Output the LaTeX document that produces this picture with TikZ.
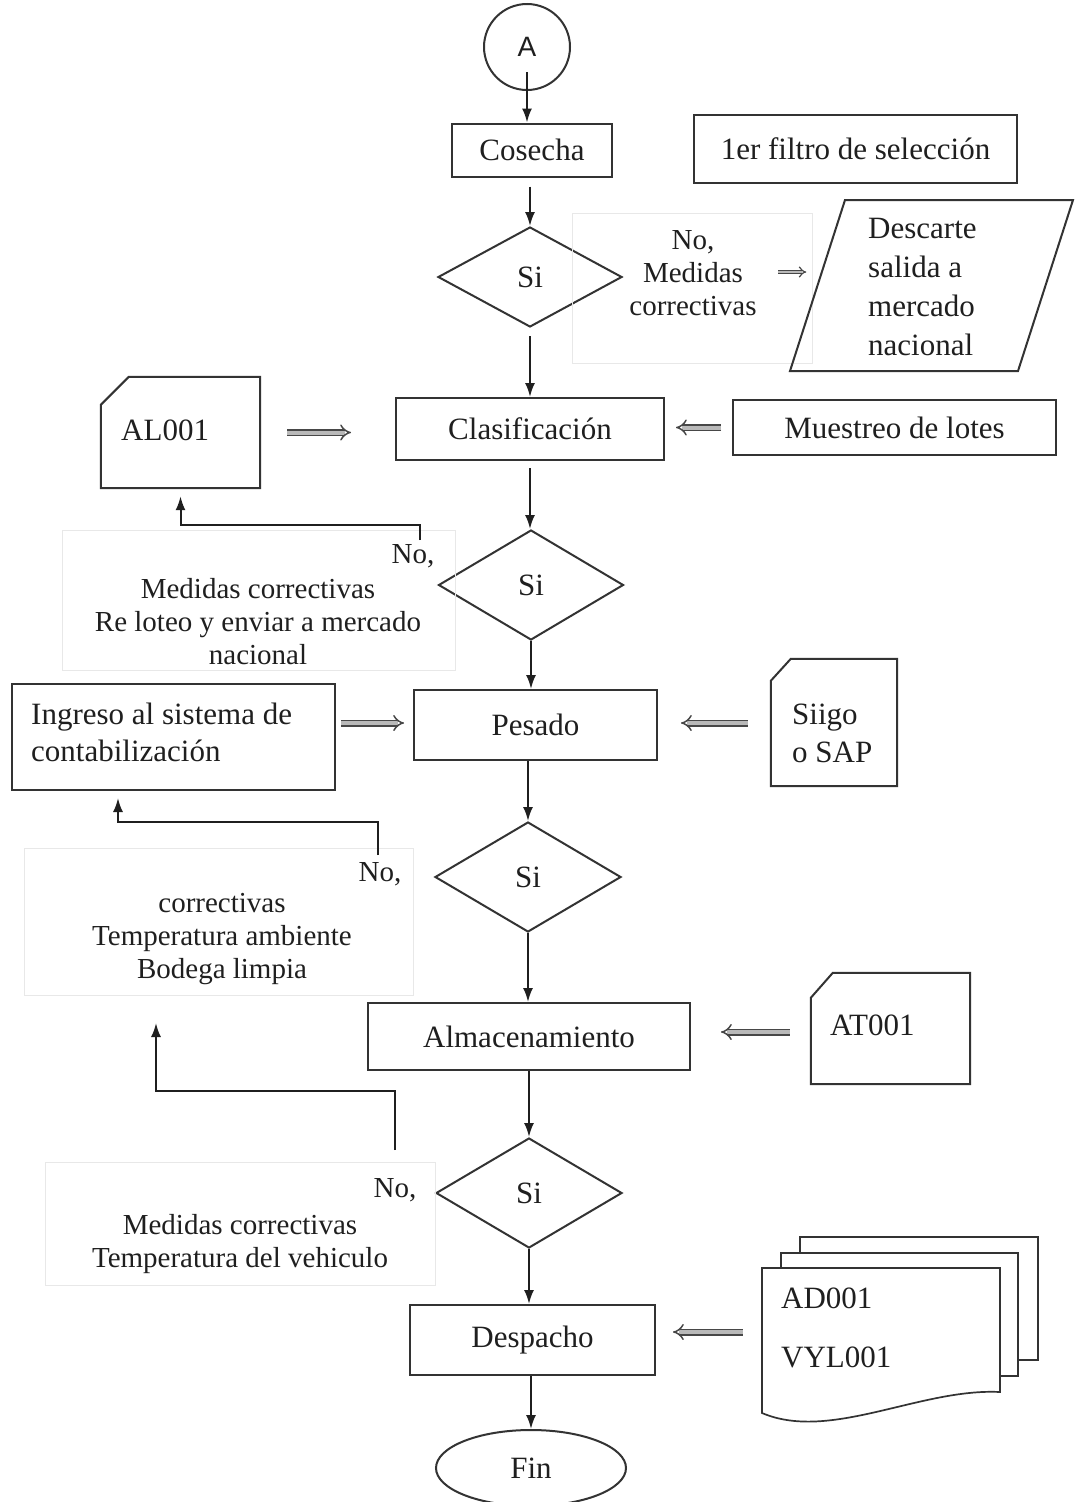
\documentclass[tikz,border=0pt]{standalone}
\usepackage{fontspec}
\setmainfont{Liberation Serif}
\newfontfamily\sansA{Liberation Sans}
\usetikzlibrary{arrows.meta,shapes.geometric,calc}
\begin{document}
\begin{tikzpicture}[x=1pt,y=-1pt,
  every node/.style={font=\fontsize{31}{37}\selectfont, text=black!88},
  box/.style={draw=black!80, line width=2pt, rectangle, inner sep=0pt},
  dia/.style={draw=black!80, line width=2pt, diamond, inner sep=0pt, aspect=1.7},
  faint/.style={draw=black!9, line width=0.6pt, rectangle, inner sep=0pt},
  ghost/.style={rectangle, inner sep=0pt, draw=none},
  shp/.style={draw=black!80, line width=2pt},
  flow/.style={draw=black!88, line width=2pt, -{Latex[length=14pt,width=10pt]}},
  dbl/.style={draw=black!72, double=gray!55, double distance=4pt, line width=1.5pt, -{Implies}},
  lbl/.style={inner sep=0pt, align=center, font=\fontsize{29}{33}\selectfont},
  lft/.style={inner sep=0pt, align=left, anchor=west}
]
\useasboundingbox (0,0) rectangle (1074,1502);
\fill[white] (0,0) rectangle (1074,1502);

% start connector
\node[draw=black!80, line width=2pt, circle, minimum size=86pt, inner sep=0pt, font=\sansA\fontsize{28}{30}\selectfont] (A) at (527,47) {A};

% Cosecha
\node[box, minimum width=160pt, minimum height=53pt] (cos) at (532,150) {Cosecha};
\node[box, minimum width=323pt, minimum height=68pt] (filtro) at (855.5,149) {1er filtro de selección};

% diamond 1
\node[dia, minimum width=184pt, minimum height=100pt] (d1) at (530,277) {Si};
\node[faint, minimum width=240pt, minimum height=150pt] (f1) at (692,288) {};
\node[lbl] (t1) at (693,273) {No,\\Medidas\\correctivas};
\node[ghost, minimum width=283pt, minimum height=171pt] (desc) at (931.5,285.5) {};
\draw[shp] (845,200) -- (1073,200) -- (1018,371) -- (790,371) -- cycle;
\node[lft, font=\fontsize{31}{39}\selectfont] (desct) at (868,287) {Descarte\\salida a\\mercado\\nacional};
\draw[dbl, double distance=2.5pt, line width=1.2pt] ($(f1.east)+(-34,-16)$) -- ($(f1.east)+(-6,-16)$);

% Clasificacion
\node[box, minimum width=268pt, minimum height=62pt] (clas) at (530,429) {Clasificación};
\node[ghost, minimum width=159pt, minimum height=111pt] (al) at (180.5,432.5) {};
\draw[shp] ($(al.north west)+(0,28)$) -- ($(al.north west)+(28,0)$) -- (al.north east) -- (al.south east) -- (al.south west) -- cycle;
\node[lft] (alt) at (121,430) {AL001};
\node[box, minimum width=323pt, minimum height=55pt] (mues) at (894.5,427.5) {Muestreo de lotes};
\draw[dbl] ($(al.east)+(27,0)$) -- ($(clas.west |- al.east)+(-44,0)$);
\draw[dbl] ($(mues.west)+(-11,0)$) -- ($(clas.east |- mues.west)+(11,0)$);

% diamond 2
\node[dia, minimum width=185pt, minimum height=110pt] (d2) at (531,585) {Si};
\node[faint, minimum width=393pt, minimum height=140pt] (f2) at (258.5,600) {};
\node[lbl] (t2) at (258,622) {Medidas correctivas\\Re loteo y enviar a mercado\\nacional};
\node[lbl] (n2) at (413,556) {No,};
\coordinate (b2) at (420,540);
\draw[flow] (b2) -- (420,525) -| ($(al.south)+(0,8)$);

% Pesado
\node[box, minimum width=243pt, minimum height=70pt] (pes) at (535.5,725) {Pesado};
\node[box, minimum width=323pt, minimum height=106pt] (ing) at (173.5,737) {};
\node[lft] (ingt) at (31,732.5) {Ingreso al sistema de\\contabilización};
\node[ghost, minimum width=126pt, minimum height=127pt] (sii) at (834,722.5) {};
\draw[shp] ($(sii.north west)+(0,22)$) -- ($(sii.north west)+(20,0)$) -- (sii.north east) -- (sii.south east) -- (sii.south west) -- cycle;
\node[lft, font=\fontsize{31}{38}\selectfont] (siit) at (792,733) {Siigo\\o SAP};
\draw[dbl] ($(ing.east |- pes.west)+(5,-2)$) -- ($(pes.west)+(-9,-2)$);
\draw[dbl] ($(sii.west |- pes.east)+(-23,-2)$) -- ($(pes.east)+(23,-2)$);

% diamond 3
\node[dia, minimum width=186pt, minimum height=110pt] (d3) at (528,877) {Si};
\node[faint, minimum width=389pt, minimum height=147pt] (f3) at (218.5,921.5) {};
\node[lbl] (t3) at (222,939) {correctivas\\Temperatura ambiente\\Bodega limpia};
\node[lbl] (n3) at (380,874) {No,};
\coordinate (b3) at (378,855);
\draw[flow] (b3) -- (378,822) -| ($(ing.south)+(-55.5,7)$);

% Almacenamiento
\node[box, minimum width=322pt, minimum height=67pt] (alm) at (529,1036.5) {Almacenamiento};
\node[ghost, minimum width=159pt, minimum height=111pt] (at) at (890.5,1028.5) {};
\draw[shp] ($(at.north west)+(0,25)$) -- ($(at.north west)+(22,0)$) -- (at.north east) -- (at.south east) -- (at.south west) -- cycle;
\node[lft] (att) at (830,1025) {AT001};
\draw[dbl] ($(at.west)+(-21,3.5)$) -- ($(alm.east |- at.west)+(30,3.5)$);

% diamond 4
\node[dia, minimum width=186pt, minimum height=110pt] (d4) at (529,1193) {Si};
\node[faint, minimum width=390pt, minimum height=123pt] (f4) at (240,1223.5) {};
\node[lbl] (t4) at (240,1244) {Medidas correctivas\\Temperatura del vehiculo};
\node[lbl] (n4) at (395,1190) {No,};
\coordinate (b4) at (395,1150);
\coordinate (e4) at (156,1023);
\draw[flow] (b4) -- (395,1091) -| (e4);

% Despacho
\node[box, minimum width=245pt, minimum height=70pt] (desp) at (532.5,1340) {Despacho};
\node[ghost, minimum width=238pt, minimum height=147pt] (md) at (881,1341.5) {};
\draw[shp, line width=1.7pt] (800,1253) -- (800,1237) -- (1038,1237) -- (1038,1360) -- (1018,1360);
\draw[shp, line width=1.7pt] (781,1268) -- (781,1253) -- (1018,1253) -- (1018,1376) -- (1000,1376);
\draw[shp, line width=1.7pt] (762,1268) -- (1000,1268) -- (1000,1392) .. controls (920,1388) and (830,1442) .. (762,1413) -- cycle;
\node[lft] (mdt1) at (781,1298) {AD001};
\node[lft] (mdt2) at (781,1357) {VYL001};
\draw[dbl] ($(md.west |- desp.east)+(-19,-8)$) -- ($(desp.east)+(17,-8)$);

% Fin
\node[draw=black!80, line width=2pt, ellipse, minimum width=190pt, minimum height=76pt, inner sep=0pt] (fin) at (531,1468) {Fin};

% main flow
\draw[flow] ($(A.center)+(0,25)$) -- (A.south |- cos.north);
\draw[flow] ($(cos.south -| d1.north)+(0,9)$) -- (d1.north);
\draw[flow] ($(d1.south)+(0,8)$) -- (d1.south |- clas.north);
\draw[flow] ($(clas.south)+(0,7)$) -- (clas.south |- d2.north);
\draw[flow] (d2.south) -- (d2.south |- pes.north);
\draw[flow] (d3.north |- pes.south) -- (d3.north);
\draw[flow] (d3.south) -- (d3.south |- alm.north);
\draw[flow] (alm.south) -- (alm.south |- d4.north);
\draw[flow] (d4.south) -- (d4.south |- desp.north);
\draw[flow] (fin.north |- desp.south) -- (fin.north);
\end{tikzpicture}
\end{document}
